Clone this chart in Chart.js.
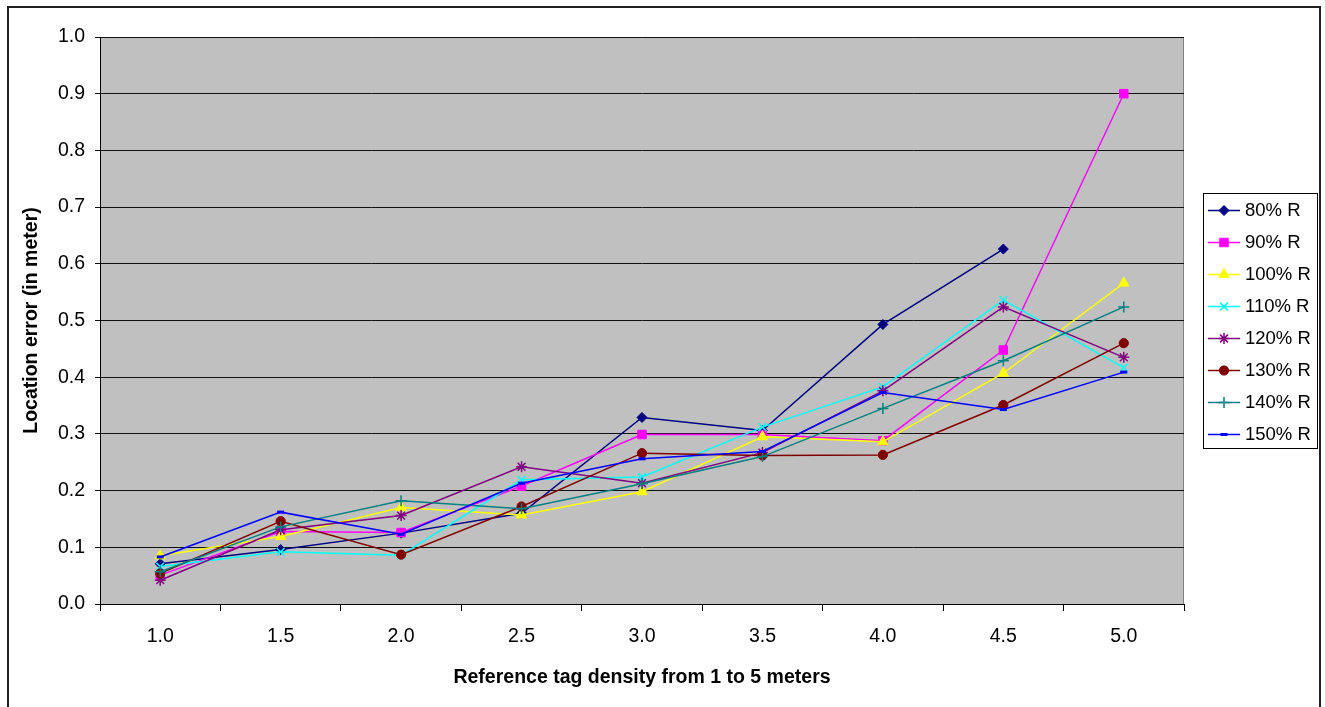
<!DOCTYPE html>
<html>
<head>
<meta charset="utf-8">
<title>Location error vs reference tag density</title>
<script src="https://cdn.jsdelivr.net/npm/chart.js@4/dist/chart.umd.min.js"></script>
<style>
  html, body { margin: 0; padding: 0; background: #fff; overflow: hidden; }
  #wrap { width: 1325px; height: 707px; position: relative; }
</style>
</head>
<body>
<div id="wrap"><canvas id="chart" width="1325" height="707"></canvas></div>
<script>
// Reference tag spacing (metres)
const categories = ['1.0', '1.5', '2.0', '2.5', '3.0', '3.5', '4.0', '4.5', '5.0'];

// Series names (communication range as a share of R)
const seriesNames = ['80% R', '90% R', '100% R', '110% R', '120% R', '130% R', '140% R', '150% R'];

// Mean location error (metres) per tag spacing
const err80  = [0.071, 0.096, 0.125, 0.160, 0.329, 0.306, 0.493, 0.626, null];
const err90  = [0.051, 0.128, 0.126, 0.208, 0.299, 0.299, 0.288, 0.448, 0.900];
const err100 = [0.085, 0.119, 0.170, 0.157, 0.198, 0.295, 0.286, 0.407, 0.566];
const err110 = [0.066, 0.092, 0.086, 0.219, 0.224, 0.312, 0.383, 0.536, 0.417];
const err120 = [0.042, 0.131, 0.156, 0.242, 0.213, 0.267, 0.376, 0.524, 0.435];
const err130 = [0.054, 0.146, 0.087, 0.172, 0.266, 0.262, 0.263, 0.351, 0.460];
const err140 = [0.057, 0.136, 0.182, 0.168, 0.212, 0.260, 0.345, 0.429, 0.524];
const err150 = [0.083, 0.162, 0.123, 0.213, 0.256, 0.269, 0.373, 0.343, 0.409];

// Y axis range and step
const yMin = 0, yMax = 1, yStep = 0.1;

const FONT = "'Liberation Sans', Arial, Helvetica, sans-serif";

const seriesValues = [err80, err90, err100, err110, err120, err130, err140, err150];
const seriesStyles = [
  { color: '#000080', point: 'rectRot',  radius: 5,   bw: 1 },
  { color: '#FF00FF', point: 'rect',     radius: 6,   bw: 1 },
  { color: '#FFFF00', point: 'triangle', radius: 6,   bw: 1 },
  { color: '#00FFFF', point: 'crossRot', radius: 5.5, bw: 1.5 },
  { color: '#800080', point: 'star',     radius: 5.5, bw: 1.5 },
  { color: '#800000', point: 'circle',   radius: 4.6, bw: 1 },
  { color: '#008080', point: 'cross',    radius: 5.5, bw: 1.5 },
  { color: '#0000FF', point: 'line',     radius: 3.5, bw: 3 }
];

const datasets = seriesNames.map((name, i) => ({
  label: name,
  data: seriesValues[i],
  borderColor: seriesStyles[i].color,
  backgroundColor: seriesStyles[i].color,
  borderWidth: 1.5,
  pointStyle: seriesStyles[i].point,
  pointRadius: seriesStyles[i].radius,
  pointBorderWidth: seriesStyles[i].bw,
  pointBackgroundColor: seriesStyles[i].color,
  pointBorderColor: seriesStyles[i].color,
  spanGaps: false,
  tension: 0,
  fill: false,
  order: seriesNames.length - i
}));

// White page, grey plot area with a thin grey frame
const plotBackground = {
  id: 'plotBackground',
  beforeDraw(chart) {
    const { ctx, chartArea: a } = chart;
    ctx.save();
    ctx.fillStyle = '#ffffff';
    ctx.fillRect(0, 0, chart.width, chart.height);
    ctx.fillStyle = '#C0C0C0';
    ctx.fillRect(a.left, a.top, a.right - a.left, a.bottom - a.top);
    ctx.strokeStyle = '#808080';
    ctx.lineWidth = 1;
    ctx.strokeRect(Math.round(a.left) + 0.5, Math.round(a.top) + 0.5,
                   Math.round(a.right - a.left) - 1, Math.round(a.bottom - a.top));
    ctx.restore();
  }
};

// Boxed legend to the right of the plot plus the outer chart frame
const boxedLegend = {
  id: 'boxedLegend',
  afterDraw(chart) {
    const { ctx, chartArea: a } = chart;
    const dsList = chart.data.datasets;
    const rowH = 31.9, boxW = 114;
    const boxH = rowH * dsList.length;
    const x0 = Math.round(a.right + 19);
    const y0 = Math.round((a.top + a.bottom) / 2 - boxH / 2);
    ctx.save();
    ctx.fillStyle = '#ffffff';
    ctx.fillRect(x0, y0, boxW, boxH);
    ctx.strokeStyle = '#000000';
    ctx.lineWidth = 1;
    ctx.strokeRect(x0 + 0.5, y0 + 0.5, boxW, Math.round(boxH));

    dsList.forEach((ds, i) => {
      const cy = Math.round(y0 + 1.5 + rowH * (i + 0.5));
      ctx.strokeStyle = ds.borderColor;
      ctx.lineWidth = 1.5;
      ctx.beginPath();
      ctx.moveTo(x0 + 5, cy + 0.5);
      ctx.lineTo(x0 + 37, cy + 0.5);
      ctx.stroke();

      ctx.fillStyle = ds.pointBackgroundColor;
      ctx.strokeStyle = ds.pointBorderColor;
      ctx.lineWidth = ds.pointBorderWidth;
      const opts = { pointStyle: ds.pointStyle, rotation: 0, radius: ds.pointRadius, borderWidth: ds.pointBorderWidth };
      if (Chart.helpers && Chart.helpers.drawPoint) {
        Chart.helpers.drawPoint(ctx, opts, x0 + 21, cy + 0.5);
      } else {
        ctx.beginPath();
        ctx.arc(x0 + 21, cy + 0.5, 3.5, 0, Math.PI * 2);
        ctx.fill();
      }

      ctx.fillStyle = '#000000';
      ctx.font = '18.5px ' + FONT;
      ctx.textBaseline = 'middle';
      ctx.textAlign = 'left';
      ctx.fillText(ds.label, x0 + 42, cy + 1);
    });

    ctx.strokeStyle = '#222222';
    ctx.lineWidth = 2;
    ctx.strokeRect(8, 7, 1312, 760);
    ctx.restore();
  }
};

new Chart(document.getElementById('chart'), {
  type: 'line',
  data: { labels: categories, datasets },
  options: {
    responsive: false,
    animation: false,
    devicePixelRatio: 1,
    layout: { padding: { left: 0, top: 37, right: 141, bottom: 0 } },
    plugins: {
      legend: { display: false },
      tooltip: { enabled: false }
    },
    scales: {
      x: {
        type: 'category',
        offset: true,
        grid: {
          offset: true,
          drawOnChartArea: false,
          drawTicks: true,
          tickLength: 7,
          color: '#000000',
          lineWidth: 1
        },
        border: { display: true, color: '#000000', width: 1 },
        ticks: {
          color: '#000000',
          font: { family: FONT, size: 19.5 },
          padding: 14,
          maxRotation: 0,
          autoSkip: false
        },
        title: {
          display: true,
          text: 'Reference tag density from 1 to 5 meters',
          color: '#000000',
          font: { family: FONT, size: 19.5, weight: 'bold' },
          padding: { top: 0, bottom: 18 }
        },
        afterFit(scale) { scale.height = 103; }
      },
      y: {
        min: yMin,
        max: yMax,
        ticks: {
          stepSize: yStep,
          callback: v => Number(v).toFixed(1),
          color: '#000000',
          font: { family: FONT, size: 19.5 },
          padding: 10
        },
        grid: {
          color: '#111111',
          lineWidth: 1,
          drawTicks: true,
          tickLength: 5
        },
        border: { display: true, color: '#000000', width: 1 },
        title: {
          display: true,
          text: 'Location error (in meter)',
          color: '#000000',
          font: { family: FONT, size: 19.5, weight: 'bold' },
          padding: { top: 20, bottom: 0 }
        },
        afterFit(scale) { scale.width = 100; }
      }
    }
  },
  plugins: [plotBackground, boxedLegend]
});
</script>
</body>
</html>
